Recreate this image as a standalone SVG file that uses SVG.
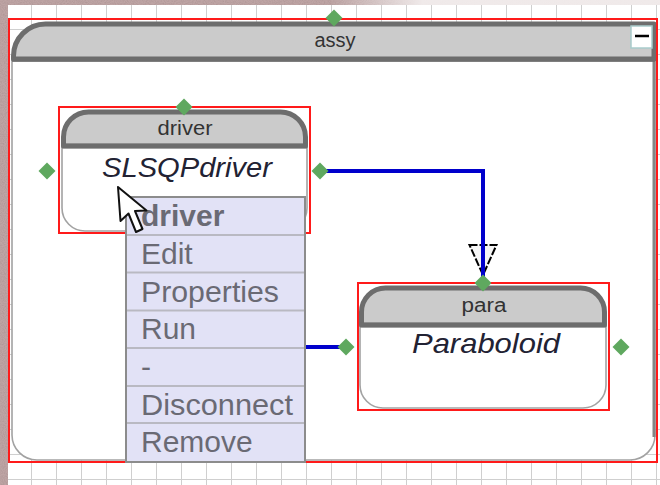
<svg xmlns="http://www.w3.org/2000/svg" width="660" height="485" viewBox="0 0 660 485">
  <defs>
    <style>
      .sel { fill: none; stroke: #ff1a1a; stroke-width: 2; }
      .hdr { fill: #cbcbcb; stroke: #6d6d6d; stroke-width: 5; stroke-linejoin: round; }
      .divider { stroke: #6d6d6d; stroke-width: 4.5; }
      .body { fill: #ffffff; stroke: #a2a2a2; stroke-width: 1.6; }
      .port { fill: #5fa85f; }
      .wire { fill: none; stroke: #0000cc; stroke-width: 4; stroke-linejoin: miter; }
      .hdrtxt { font-family: "Liberation Sans", Arial, sans-serif; font-size: 20px; fill: #333333; text-anchor: middle; }
      .cls { font-family: "Liberation Sans", Arial, sans-serif; font-size: 28px; font-style: italic; fill: #222233; text-anchor: middle; }
      .menubox { fill: #e2e2f6; stroke: #8c8c8c; stroke-width: 2; }
      .sep { stroke: #b9b9c2; stroke-width: 2; }
      .item { font-family: "Liberation Sans", Arial, sans-serif; font-size: 30px; fill: #6a6a74; }
      .grid { fill: none; stroke: #cfcfcf; stroke-width: 2; }
    </style>
    <!-- canvas grid -->
    <pattern id="gridPat" x="6" y="4" width="25" height="25" patternUnits="userSpaceOnUse">
      <rect width="25" height="25" fill="#ffffff"/>
      <path class="grid" d="M0,0 V25 M0,0 H25"/>
    </pattern>
    <!-- speckled stone backdrop -->
    <filter id="grain" x="0" y="0" width="100%" height="100%">
      <feTurbulence type="fractalNoise" baseFrequency="0.9" numOctaves="2" seed="7" result="n"/>
      <feColorMatrix in="n" type="matrix" values="0 0 0 0 0.42  0 0 0 0 0.30  0 0 0 0 0.30  1.6 0 0 0 -0.55"/>
    </filter>
    <linearGradient id="fadeTop" x1="0" y1="0" x2="660" y2="0" gradientUnits="userSpaceOnUse">
      <stop offset="0.5" stop-color="#f6f2f2" stop-opacity="0"/>
      <stop offset="0.64" stop-color="#f6f2f2" stop-opacity="0.9"/>
    </linearGradient>
    <!-- open triangular arrowhead -->
    <path id="openArrow" d="M-13.5,0 H13.5 L0,30 Z" fill="#f6f6f6" stroke="#000000" stroke-width="2" stroke-dasharray="8 2"/>
    <path id="port" d="M0,-8.5 L8.5,0 L0,8.5 L-8.5,0 Z"/>
  </defs>

  <!-- background -->
  <rect x="0" y="0" width="660" height="485" fill="url(#gridPat)"/>
  <rect x="0" y="0" width="660" height="5" fill="#bea4a4"/>
  <rect x="0" y="0" width="660" height="5" filter="url(#grain)"/>
  <rect x="0" y="0" width="660" height="5" fill="url(#fadeTop)"/>
  <rect x="0" y="0" width="8" height="485" fill="#bea4a4"/>
  <rect x="0" y="0" width="8" height="485" filter="url(#grain)"/>

  <!-- assembly container -->
  <g id="assy">
    <path class="body" d="M12,59 V435 A25,25 0 0 0 37,460 H630 A25,25 0 0 0 655,435 V59 Z"/>
    <line x1="654" y1="59" x2="654" y2="437" stroke="#858585" stroke-width="3"/>
    <path class="hdr" stroke-width="6" d="M13.5,59 V56 A32,32 0 0 1 45.5,24 H654 V59 Z"/>
    <line class="divider" x1="12" y1="59.5" x2="655" y2="59.5" stroke-width="5"/>
    <text class="hdrtxt" x="335" y="47" font-size="21">assy</text>
    <g id="assy-minimize">
      <rect x="631" y="26" width="21" height="22" fill="#ffffff" stroke="#a9cccc" stroke-width="1.5"/>
      <line x1="635" y1="36" x2="649" y2="36" stroke="#000000" stroke-width="2.5"/>
    </g>
    <rect class="sel" x="9" y="19" width="648" height="443"/>
  </g>

  <!-- driver component -->
  <g id="driver">
    <path class="body" d="M62,146 V208 A23,23 0 0 0 85,231 H284 A23,23 0 0 0 307,208 V146 Z"/>
    <path class="hdr" d="M63.5,146 V137 A25,25 0 0 1 88.5,112 H280.5 A25,25 0 0 1 305.5,137 V146 Z"/>
    <line class="divider" x1="62" y1="146" x2="307" y2="146"/>
    <text class="hdrtxt" x="185" y="135" textLength="55" lengthAdjust="spacingAndGlyphs">driver</text>
    <text class="cls" x="187" y="177" textLength="170" lengthAdjust="spacingAndGlyphs">SLSQPdriver</text>
    <rect class="sel" x="59" y="107" width="251" height="126"/>
  </g>

  <!-- paraboloid component -->
  <g id="para">
    <path class="body" d="M360,325 V385 A23,23 0 0 0 383,408 H583 A23,23 0 0 0 606,385 V325 Z"/>
    <path class="hdr" d="M361.5,325 V312 A24,24 0 0 1 385.5,288 H580.5 A24,24 0 0 1 604.5,312 V325 Z"/>
    <line class="divider" x1="360" y1="325" x2="606" y2="325"/>
    <text class="hdrtxt" x="484" y="312" textLength="45" lengthAdjust="spacingAndGlyphs">para</text>
    <text class="cls" x="486" y="353" textLength="148" lengthAdjust="spacingAndGlyphs">Paraboloid</text>
    <rect class="sel" x="358" y="283" width="251" height="127"/>
  </g>

  <!-- connectors -->
  <g id="connectors">
    <use href="#openArrow" x="483" y="245"/>
    <path class="wire" d="M320,171 H483 V283"/>
    <path class="wire" d="M200,347 H346"/>
  </g>

  <!-- ports -->
  <g id="ports" class="port">
    <use href="#port" x="334" y="18"/>
    <use href="#port" x="184" y="107"/>
    <use href="#port" x="47" y="171"/>
    <use href="#port" x="320" y="171"/>
    <use href="#port" x="483" y="283"/>
    <use href="#port" x="346" y="347"/>
    <use href="#port" x="621" y="347"/>
  </g>

  <!-- context menu -->
  <g id="context-menu">
    <rect class="menubox" x="126" y="197" width="179" height="265"/>
    <g class="sep">
      <line x1="127" y1="235" x2="304" y2="235"/>
      <line x1="127" y1="272.5" x2="304" y2="272.5"/>
      <line x1="127" y1="310.5" x2="304" y2="310.5"/>
      <line x1="127" y1="348" x2="304" y2="348"/>
      <line x1="127" y1="386" x2="304" y2="386"/>
      <line x1="127" y1="423" x2="304" y2="423"/>
    </g>
    <text class="item" x="141" y="226" font-weight="bold" fill="#5e5e6a">driver</text>
    <text class="item" x="141" y="264">Edit</text>
    <text class="item" x="141" y="302" textLength="138" lengthAdjust="spacingAndGlyphs">Properties</text>
    <text class="item" x="141" y="339">Run</text>
    <text class="item" x="141" y="377">-</text>
    <text class="item" x="141" y="415" textLength="152" lengthAdjust="spacingAndGlyphs">Disconnect</text>
    <text class="item" x="141" y="452">Remove</text>
  </g>

  <!-- mouse pointer -->
  <g id="pointer">
    <polygon points="118,187 120.5,221 128.5,213.5 136,232 142.5,229 135,211 146.5,210.5" fill="#ffffff" stroke="#111111" stroke-width="2" stroke-linejoin="round"/>
  </g>
</svg>
